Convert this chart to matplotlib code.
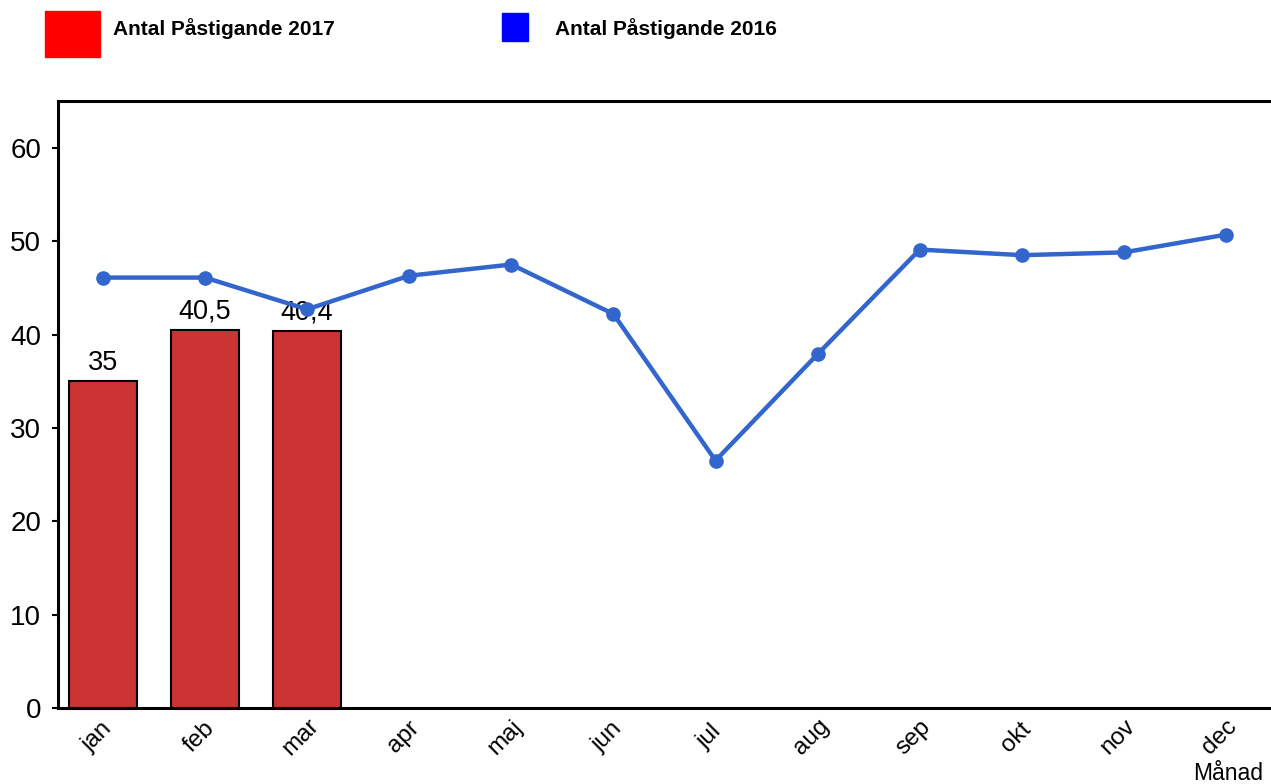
import matplotlib.pyplot as plt
import matplotlib.patches as mpatches
import matplotlib.transforms as mtransforms

plt.rcParams['font.family'] = ['Liberation Sans', 'DejaVu Sans']

months = ['jan', 'feb', 'mar', 'apr', 'maj', 'jun', 'jul', 'aug', 'sep', 'okt', 'nov', 'dec']
pax_2017 = [35, 40.5, 40.4]
pax_2017_labels = ['35', '40,5', '40,4']
pax_2016 = [46.1, 46.1, 42.7, 46.3, 47.5, 42.2, 26.5, 37.9, 49.1, 48.5, 48.8, 50.7]

fig = plt.figure(figsize=(12.71, 7.84), dpi=100)
ax = fig.add_axes([0.0456, 0.097, 0.9544, 0.774])

x = list(range(len(months)))
bars = ax.bar(x[:len(pax_2017)], pax_2017, width=0.66, color='#CC3333',
              edgecolor='black', linewidth=1.5, zorder=2)
for b, lab in zip(bars, pax_2017_labels):
    ax.text(b.get_x() + b.get_width() / 2, b.get_height() + 0.6, lab,
            ha='center', va='bottom', fontsize=19.5, zorder=3)

ax.plot(x, pax_2016, color='#3366CC', linewidth=3.2, marker='o', markersize=9.5, zorder=4)

ax.set_xlim(-0.44, 11.44)
ax.set_ylim(0, 65)
ax.set_yticks([0, 10, 20, 30, 40, 50, 60])
ax.tick_params(axis='y', labelsize=20, length=4, width=1.5, direction='out', pad=8)
ax.set_xticks(x)
ax.set_xticklabels(months, rotation=45, ha='center', va='center',
                   rotation_mode='anchor', fontsize=17.5)
ax.tick_params(axis='x', length=0, pad=21)
# shift month labels a little to the left, like the original
shift = mtransforms.ScaledTranslation(-6 / 100, 0, fig.dpi_scale_trans)
for lab in ax.get_xticklabels():
    lab.set_transform(lab.get_transform() + shift)

for side in ['left', 'top', 'bottom']:
    ax.spines[side].set_linewidth(2.2)
ax.spines['right'].set_visible(False)

fig.text(1228 / 1271, 1 - 780 / 784, 'Månad', ha='center', va='baseline', fontsize=16.5)

# legend at the top
fig.patches.append(mpatches.Rectangle((45 / 1271, 1 - 57 / 784), 55 / 1271, 46 / 784,
                                      transform=fig.transFigure, color='#FF0000'))
fig.text(113 / 1271, 1 - 29 / 784, 'Antal Påstigande 2017', fontsize=15,
         fontweight='bold', va='center', ha='left')
fig.patches.append(mpatches.Rectangle((502 / 1271, 1 - 41 / 784), 26 / 1271, 28 / 784,
                                      transform=fig.transFigure, color='#0000FF'))
fig.text(555 / 1271, 1 - 29 / 784, 'Antal Påstigande 2016', fontsize=15,
         fontweight='bold', va='center', ha='left')

fig.savefig('out.png', dpi=100)
